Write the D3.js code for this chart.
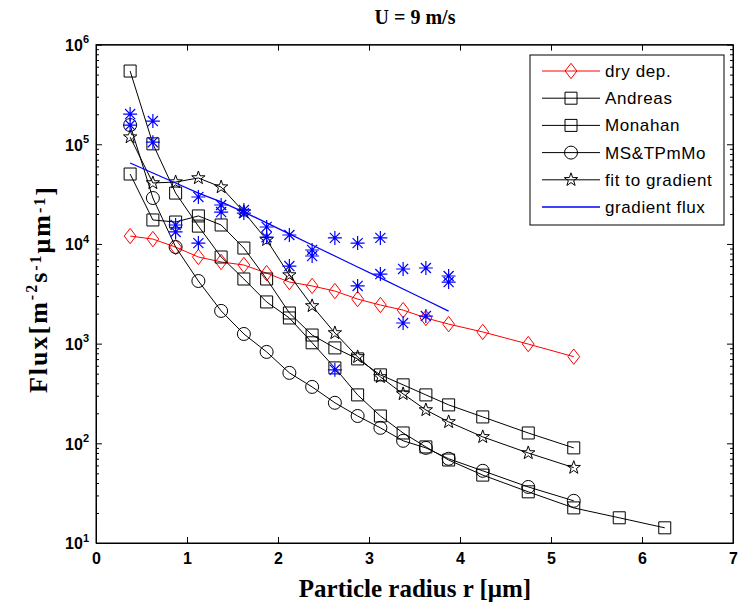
<!DOCTYPE html>
<html>
<head>
<meta charset="utf-8">
<script src="https://cdn.jsdelivr.net/npm/d3@7"></script>
<style>
  body { margin: 0; background: #fff; }
</style>
</head>
<body>
<div id="chart"></div>
<script>
const width = 744;
const height = 606;

// particle radius grid [um]
const radius = [0.375, 0.625, 0.875, 1.125, 1.375, 1.625, 1.875, 2.125, 2.375, 2.625,
                2.875, 3.125, 3.375, 3.625, 3.875, 4.25, 4.75, 5.25];
const radiusAndreas = radius.concat([5.75, 6.25]);
const radiusGradient = radius.slice(0, 15);

// fluxes [m-2 s-1 um-1]
const dryDep = [12000, 11200, 9300, 7400, 6600, 6150, 5100, 4150, 3790, 3370,
                2800, 2440, 2170, 1810, 1570, 1310, 990, 740];
const andreas = [543000, 101000, 32400, 15100, 7400, 4450, 2620, 1810, 1020, 571,
                 306, 188, 127, 92, 68, 48, 32.6, 22.5, 17.9, 14.2];
const monahan = [50300, 17400, 16600, 19100, 15500, 9100, 4450, 2030, 1220, 906,
                 703, 486, 386, 306, 243, 184, 127, 90];
const msTPmMo = [156000, 28900, 9310, 4250, 2130, 1250, 826, 509, 368, 255,
                 188, 143, 106, 90, 70, 53, 36.5, 26.5];
const fitGradient = [118000, 40900, 41800, 45900, 37200, 20900, 11000, 4880, 2390, 1280,
                     736, 464, 313, 216, 164, 116, 80, 57];
const gradientFlux = [64900, 51500, 40900, 32400, 26400, 20900, 16300, 12600, 9770, 7570,
                      5870, 4560, 3530, 2740, 2120];

// measured gradient points (blue asterisks)
const gradPtsR = [0.375, 0.375, 0.625, 0.625, 0.875, 0.875, 1.125, 1.125, 1.375, 1.375,
                  1.625, 1.625, 1.875, 1.875, 2.125, 2.125, 2.375, 2.375, 2.625, 2.625,
                  2.875, 2.875, 3.125, 3.125, 3.375, 3.375, 3.625, 3.625, 3.875, 3.875];
const gradPtsV = [201000, 156000, 171000, 105000, 15500, 13200, 29600, 10200, 24600, 20900,
                  21900, 20400, 14800, 11700, 12300, 6000, 8700, 7570, 11500, 546,
                  10200, 3790, 11500, 4990, 5610, 1610, 5740, 1890, 4770, 4150];

const xTicks = [0, 1, 2, 3, 4, 5, 6, 7];
const yTicks = [1e1, 1e2, 1e3, 1e4, 1e5, 1e6];
const yExponents = ["1", "2", "3", "4", "5", "6"];
const legendNames = ["dry dep.", "Andreas", "Monahan", "MS&TPmMo", "fit to gradient", "gradient flux"];

// custom MATLAB-like markers
const mkDiamond = { draw(c, s) { const w = s * 0.42, h = s * 0.55;
  c.moveTo(0, -h); c.lineTo(w, 0); c.lineTo(0, h); c.lineTo(-w, 0); c.closePath(); } };
const mkSquare = { draw(c, s) { c.rect(-s / 2, -s / 2, s, s); } };
const mkCircle = { draw(c, s) { c.moveTo(s / 2, 0); c.arc(0, 0, s / 2, 0, 2 * Math.PI); } };
const mkStar = { draw(c, s) {
  const R = s / 2, r = R * 0.4;
  for (let k = 0; k < 10; k++) {
    const a = -Math.PI / 2 + k * Math.PI / 5, rr = k % 2 ? r : R;
    k ? c.lineTo(rr * Math.cos(a), rr * Math.sin(a)) : c.moveTo(rr * Math.cos(a), rr * Math.sin(a));
  }
  c.closePath(); } };
const mkAsterisk = { draw(c, s) {
  const h = s / 2, d = h * 0.72;
  c.moveTo(-h, 0); c.lineTo(h, 0); c.moveTo(0, -h); c.lineTo(0, h);
  c.moveTo(-d, -d); c.lineTo(d, d); c.moveTo(-d, d); c.lineTo(d, -d); } };

const series = [
  { name: legendNames[0], r: radius, v: dryDep, color: "#ff0000", marker: mkDiamond, size: 14 },
  { name: legendNames[1], r: radiusAndreas, v: andreas, color: "#000", marker: mkSquare, size: 12 },
  { name: legendNames[2], r: radius, v: monahan, color: "#000", marker: mkSquare, size: 12 },
  { name: legendNames[3], r: radius, v: msTPmMo, color: "#000", marker: mkCircle, size: 13 },
  { name: legendNames[4], r: radius, v: fitGradient, color: "#000", marker: mkStar, size: 14 },
  { name: legendNames[5], r: radiusGradient, v: gradientFlux, color: "#0000ff", marker: null }
];

const svg = d3.select("#chart").append("svg")
  .attr("width", width)
  .attr("height", height)
  .style("font-family", "'Liberation Sans', Arial, sans-serif");

const x = d3.scaleLinear().domain([0, 7]).range([96, 733]);
const y = d3.scaleLog().domain([10, 1e6]).range([543, 44.6]);

// minor log ticks
const yMinor = [];
yTicks.slice(0, -1).forEach(d => { for (let k = 2; k < 10; k++) yMinor.push(d * k); });

const axes = svg.append("g");
axes.append("g").attr("transform", `translate(0,${y.range()[0]})`)
  .call(d3.axisBottom(x).tickValues(xTicks).tickSize(-6).tickSizeOuter(0).tickPadding(10).tickFormat(d3.format("d")))
  .call(g => g.selectAll("text").attr("font-size", 16).attr("font-weight", "bold").attr("fill", "#000")
    .attr("font-family", "'Liberation Sans', Arial, sans-serif"));
axes.append("g").attr("transform", `translate(0,${y.range()[1]})`)
  .call(d3.axisTop(x).tickValues(xTicks).tickSize(-6).tickSizeOuter(0).tickFormat(""));
axes.append("g").attr("transform", `translate(${x.range()[0]},0)`)
  .call(d3.axisLeft(y).tickValues(yTicks).tickSize(-6).tickSizeOuter(0).tickFormat(""))
  .call(g => g.selectAll(".tick").append("text")
    .attr("x", -7).attr("dy", "0.36em").attr("text-anchor", "end")
    .attr("fill", "#000").attr("font-size", 16).attr("font-weight", "bold")
    .attr("font-family", "'Liberation Sans', Arial, sans-serif")
    .each(function (d, i) {
      const t = d3.select(this);
      t.append("tspan").text("10");
      t.append("tspan").attr("font-size", 11).attr("dy", "-0.7em").text(yExponents[i]);
    }));
axes.append("g").attr("transform", `translate(${x.range()[0]},0)`)
  .call(d3.axisLeft(y).tickValues(yMinor).tickSize(-3).tickSizeOuter(0).tickFormat(""));
axes.append("g").attr("transform", `translate(${x.range()[1]},0)`)
  .call(d3.axisRight(y).tickValues(yTicks).tickSize(-6).tickSizeOuter(0).tickFormat(""));
axes.append("g").attr("transform", `translate(${x.range()[1]},0)`)
  .call(d3.axisRight(y).tickValues(yMinor).tickSize(-3).tickSizeOuter(0).tickFormat(""));
axes.selectAll(".domain").attr("stroke", "#000");
axes.selectAll(".tick line").attr("stroke", "#000");

// box
svg.append("rect")
  .attr("x", x.range()[0]).attr("y", y.range()[1])
  .attr("width", x.range()[1] - x.range()[0]).attr("height", y.range()[0] - y.range()[1])
  .attr("fill", "none").attr("stroke", "#000");

// series
const plot = svg.append("g");
series.forEach(s => {
  const pts = s.v.map((v, i) => [s.r[i], v]);
  plot.append("path")
    .datum(pts)
    .attr("fill", "none")
    .attr("stroke", s.color)
    .attr("stroke-width", s.marker ? 1 : 1.3)
    .attr("d", d3.line().x(d => x(d[0])).y(d => y(d[1])));
  if (s.marker) {
    plot.selectAll(null).data(pts).join("path")
      .attr("transform", d => `translate(${x(d[0])},${y(d[1])})`)
      .attr("d", d3.symbol().type(s.marker).size(s.size))
      .attr("fill", "none")
      .attr("stroke", s.color)
      .attr("stroke-width", 1);
  }
});

// gradient measurement points
plot.selectAll(null).data(gradPtsV.map((v, i) => [gradPtsR[i], v])).join("path")
  .attr("transform", d => `translate(${x(d[0])},${y(d[1])})`)
  .attr("d", d3.symbol().type(mkAsterisk).size(14))
  .attr("fill", "none")
  .attr("stroke", "#0000ff")
  .attr("stroke-width", 1.2);

// legend
const legend = svg.append("g").attr("transform", "translate(530,55)");
legend.append("rect").attr("width", 194).attr("height", 170)
  .attr("fill", "#fff").attr("stroke", "#000");
series.forEach((s, i) => {
  const row = legend.append("g").attr("transform", `translate(0,${16 + i * 27.2})`);
  row.append("line").attr("x1", 12).attr("x2", 70).attr("stroke", s.color).attr("stroke-width", s.marker ? 1 : 1.3);
  if (s.marker) {
    row.append("path").attr("transform", "translate(41,0)")
      .attr("d", d3.symbol().type(s.marker).size(s.size))
      .attr("fill", "none").attr("stroke", s.color);
  }
  row.append("text").attr("x", 75).attr("dy", "0.35em")
    .attr("font-size", 17).attr("letter-spacing", 0.6).text(s.name);
});

// titles
svg.append("text").attr("x", 415).attr("y", 24).attr("text-anchor", "middle")
  .attr("font-family", "'Liberation Serif', 'Times New Roman', serif")
  .attr("font-weight", "bold").attr("font-size", 20).text("U = 9 m/s");

svg.append("text").attr("x", 415).attr("y", 597).attr("text-anchor", "middle")
  .attr("font-family", "'Liberation Serif', 'Times New Roman', serif")
  .attr("font-weight", "bold").attr("font-size", 25).text("Particle radius r [\u03bcm]");

const yl = svg.append("text")
  .attr("transform", "translate(47,289) rotate(-90)")
  .attr("text-anchor", "middle")
  .attr("font-family", "'Liberation Serif', 'Times New Roman', serif")
  .attr("font-weight", "bold").attr("font-size", 26).attr("letter-spacing", 2);
yl.append("tspan").text("Flux[m");
yl.append("tspan").attr("font-size", 16).attr("dy", "-0.6em").text("-2");
yl.append("tspan").attr("dy", "0.36em").text("s");
yl.append("tspan").attr("font-size", 16).attr("dy", "-0.36em").text("-1");
yl.append("tspan").attr("dy", "0.36em").text("\u03bcm");
yl.append("tspan").attr("font-size", 16).attr("dy", "-0.36em").text("-1");
yl.append("tspan").attr("dy", "0.36em").text("]");
</script>
</body>
</html>
